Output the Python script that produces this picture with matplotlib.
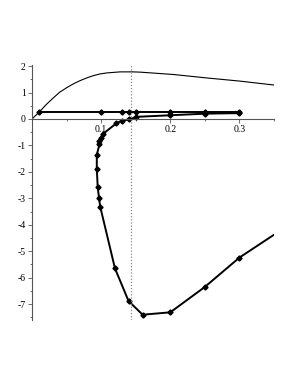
import numpy as np
import matplotlib
matplotlib.use("Agg")
import matplotlib.pyplot as plt

# thin curve
curve_x = [0.0, 0.0116, 0.02, 0.031, 0.04, 0.05, 0.06, 0.0696, 0.08, 0.089,
           0.098, 0.108, 0.1275, 0.146, 0.1565, 0.205, 0.253, 0.301, 0.351]
curve_y = [0.0, 0.29, 0.53, 0.80, 1.01, 1.18, 1.33, 1.45, 1.56, 1.64,
           1.70, 1.74, 1.78, 1.78, 1.77, 1.68, 1.55, 1.43, 1.28]

# horizontal line with markers
flat_x = [0.0101, 0.1, 0.13, 0.1406, 0.151, 0.2, 0.25, 0.3]
flat_y = [0.25, 0.25, 0.25, 0.25, 0.25, 0.25, 0.25, 0.25]

# loop curve with markers (last point without marker)
loop_x = [0.3, 0.25, 0.2, 0.151, 0.1406, 0.13, 0.1217, 0.102, 0.0995, 0.097,
          0.0976, 0.0937, 0.0937, 0.095, 0.097, 0.0986, 0.12, 0.1396, 0.16,
          0.2, 0.25, 0.3, 0.351]
loop_y = [0.22, 0.2, 0.14, 0.08, -0.02, -0.06, -0.17, -0.58, -0.71, -0.84,
          -0.96, -1.35, -1.88, -2.56, -3.0, -3.31, -5.65, -6.88, -7.4,
          -7.31, -6.35, -5.24, -4.36]

vline_x = 0.1435

plt.rcParams['axes.unicode_minus'] = False
plt.rcParams['font.family'] = ['Liberation Serif', 'DejaVu Serif']

fig = plt.figure(figsize=(2.95, 3.82), dpi=100)
ax = fig.add_axes([32 / 295, 1 - 320 / 382, 242 / 295, 255 / 382])

ax.plot(curve_x, curve_y, color='black', lw=0.8)
ax.plot(flat_x, flat_y, color='black', lw=1.4, marker='D', ms=2.6)
ax.plot(loop_x, loop_y, color='black', lw=1.4, marker='D', ms=2.6,
        markevery=list(range(len(loop_x) - 1)))
ax.axvline(vline_x, color='#888888', lw=0.9, ls=(0, (1, 1.5)))

ax.set_xlim(0, 0.35)
ax.set_ylim(-7.6, 2.04)

for s in ['top', 'right']:
    ax.spines[s].set_visible(False)
ax.spines['left'].set_position(('data', 0))
ax.spines['bottom'].set_position(('data', 0))
ax.spines['left'].set_color('#555555')
ax.spines['bottom'].set_color('#555555')
ax.spines['left'].set_linewidth(0.8)
ax.spines['bottom'].set_linewidth(0.8)

ax.set_xticks([0.1, 0.2, 0.3])
ax.set_xticklabels(['0.1', '0.2', '0.3'])
ax.set_xticks(np.arange(0.05, 0.351, 0.1), minor=True)
ax.set_yticks(range(-7, 3))
ax.set_yticks(np.arange(-7.5, 2.0, 1.0), minor=True)

ax.tick_params(axis='both', which='major', direction='out', length=3,
               width=0.6, color='#555555', labelsize=7, pad=1.5)
ax.tick_params(axis='both', which='minor', direction='out', length=1.5,
               width=0.6, color='#555555')

fig.savefig('out.png', dpi=100)
